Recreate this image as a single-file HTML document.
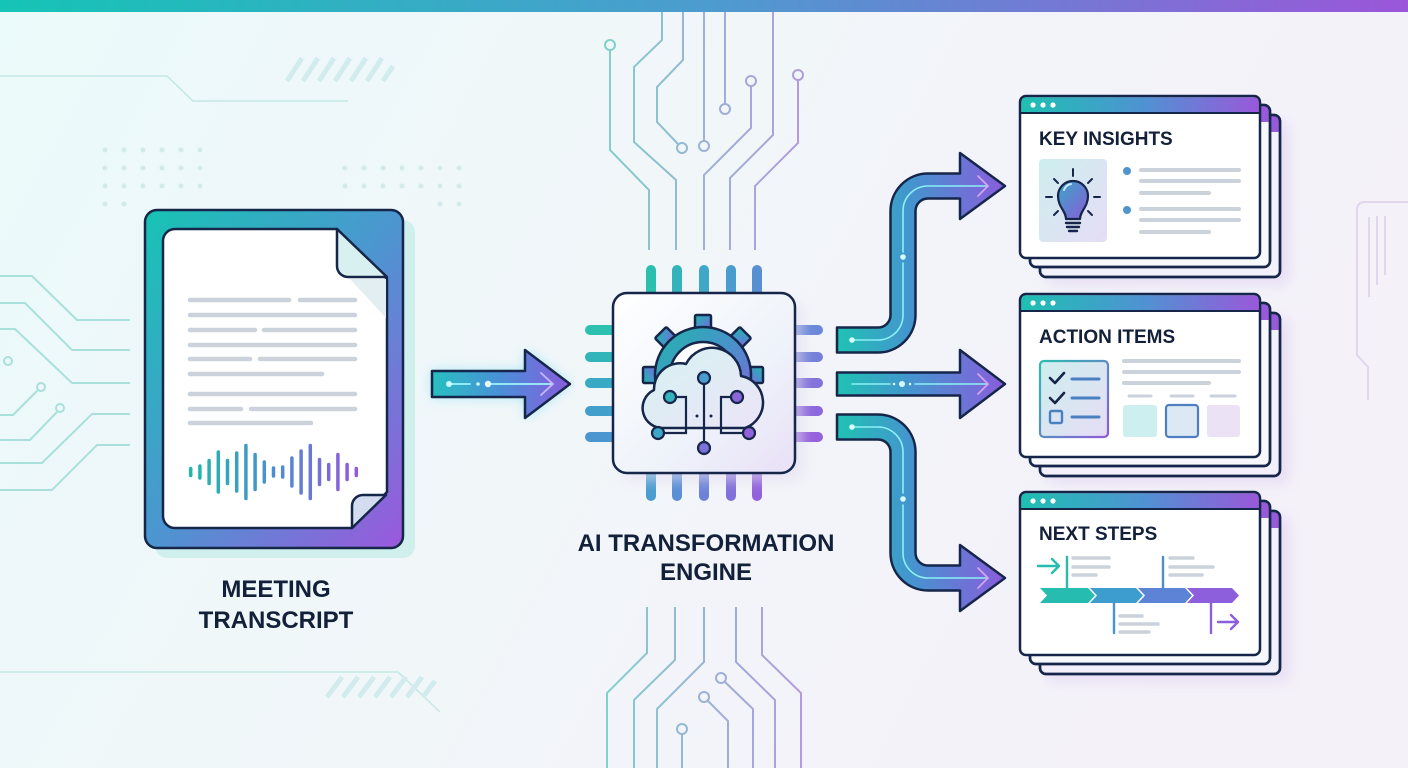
<!DOCTYPE html>
<html><head><meta charset="utf-8"><style>
html,body{margin:0;padding:0;}
body{width:1408px;height:768px;overflow:hidden;background:#f0f7f8;}
svg{display:block;}
text{font-family:"Liberation Sans",Arial,sans-serif;font-weight:bold;fill:#13203a;}
</style></head><body>
<svg width="1408" height="768" viewBox="0 0 1408 768" xmlns="http://www.w3.org/2000/svg">
<defs>
<linearGradient id="bg" x1="0" y1="0" x2="1" y2="0.3">
<stop offset="0" stop-color="#ebfafa"/><stop offset="0.5" stop-color="#f1f6f9"/><stop offset="1" stop-color="#f4f1f9"/></linearGradient>
<linearGradient id="topbar" x1="0" y1="0" x2="1" y2="0">
<stop offset="0" stop-color="#15c4b6"/><stop offset="0.5" stop-color="#4c9ccf"/><stop offset="1" stop-color="#9b56d9"/></linearGradient>
<linearGradient id="tg" x1="0" y1="0" x2="1" y2="1">
<stop offset="0" stop-color="#17c4b4"/><stop offset="0.5" stop-color="#4c96d0"/><stop offset="1" stop-color="#9b58dd"/></linearGradient>
<linearGradient id="hbar" x1="0" y1="0" x2="1" y2="0">
<stop offset="0" stop-color="#1ec0b2"/><stop offset="0.5" stop-color="#4d94d2"/><stop offset="1" stop-color="#9a58da"/></linearGradient>
<linearGradient id="wave" gradientUnits="userSpaceOnUse" x1="188" y1="0" x2="360" y2="0">
<stop offset="0" stop-color="#1fbaa9"/><stop offset="0.5" stop-color="#4c8ed0"/><stop offset="1" stop-color="#9858da"/></linearGradient>
<linearGradient id="arr" gradientUnits="userSpaceOnUse" x1="837" y1="0" x2="1005" y2="0">
<stop offset="0" stop-color="#1fc2b3"/><stop offset="0.45" stop-color="#4693cf"/><stop offset="1" stop-color="#8a5cdc"/></linearGradient>
<linearGradient id="arrIn" gradientUnits="userSpaceOnUse" x1="432" y1="0" x2="570" y2="0">
<stop offset="0" stop-color="#27c0c0"/><stop offset="0.5" stop-color="#4a8fd8"/><stop offset="1" stop-color="#8a5adc"/></linearGradient>
<linearGradient id="chip" x1="0" y1="0" x2="1" y2="1">
<stop offset="0" stop-color="#ffffff"/><stop offset="0.6" stop-color="#eef3fa"/><stop offset="1" stop-color="#e9e0f7"/></linearGradient>
<linearGradient id="gear" x1="0" y1="0" x2="1" y2="1">
<stop offset="0" stop-color="#20b7aa"/><stop offset="0.5" stop-color="#4a90cc"/><stop offset="1" stop-color="#8c5cd8"/></linearGradient>
<linearGradient id="cloud" x1="0" y1="0" x2="1" y2="1">
<stop offset="0" stop-color="#d5f3f1"/><stop offset="1" stop-color="#ece4f8"/></linearGradient>
<linearGradient id="soft" x1="0" y1="0" x2="1" y2="1">
<stop offset="0" stop-color="#cdeeee"/><stop offset="1" stop-color="#e6ddf5"/></linearGradient>
<linearGradient id="bulb" x1="0" y1="0" x2="1" y2="1">
<stop offset="0" stop-color="#3aa6c8"/><stop offset="1" stop-color="#8a5cd8"/></linearGradient>
<linearGradient id="chk" x1="0" y1="0" x2="1" y2="1">
<stop offset="0" stop-color="#2bbcb0"/><stop offset="1" stop-color="#8c5cd8"/></linearGradient>
<linearGradient id="circT" x1="0" y1="0" x2="1" y2="0">
<stop offset="0" stop-color="#7fd3c8"/><stop offset="0.5" stop-color="#9ab3d4"/><stop offset="1" stop-color="#b49ae0"/></linearGradient>
<linearGradient id="circB" gradientUnits="userSpaceOnUse" x1="600" y1="0" x2="805" y2="0">
<stop offset="0" stop-color="#7fd3c8"/><stop offset="0.5" stop-color="#9ab3d4"/><stop offset="1" stop-color="#b49ae0"/></linearGradient>
<linearGradient id="circTop" gradientUnits="userSpaceOnUse" x1="600" y1="0" x2="805" y2="0">
<stop offset="0" stop-color="#7fd3c8"/><stop offset="0.5" stop-color="#9ab3d4"/><stop offset="1" stop-color="#b49ae0"/></linearGradient>
<filter id="blur6" x="-50%" y="-50%" width="200%" height="200%"><feGaussianBlur stdDeviation="6"/></filter>
<filter id="blur3" x="-50%" y="-50%" width="200%" height="200%"><feGaussianBlur stdDeviation="3"/></filter>
<filter id="blur10" x="-50%" y="-50%" width="200%" height="200%"><feGaussianBlur stdDeviation="10"/></filter>
</defs>

<!-- background -->
<rect width="1408" height="768" fill="url(#bg)"/>
<rect width="1408" height="12" fill="url(#topbar)"/>

<!-- background decor left -->
<g fill="none" stroke="#c2e8e6" stroke-width="1.5">
<path d="M0 76 H167 L193 101 H348"/>
<path d="M0 672 H398 L440 712"/>
</g>
<g stroke="#d2ecee" stroke-width="5">
<path d="M287 81 L302 58 M303 81 L318 58 M319 81 L334 58 M335 81 L350 58 M351 81 L366 58 M367 81 L382 58 M383 81 L393 66"/>
<path d="M327 697 L342 677 M343 697 L358 677 M359 697 L374 677 M375 697 L390 677 M391 697 L406 677 M407 697 L422 677 M423 697 L435 681"/>
</g>
<g fill="#d4e9eb">
<circle cx="105" cy="150" r="2.5"/><circle cx="124" cy="150" r="2.5"/><circle cx="143" cy="150" r="2.5"/><circle cx="162" cy="150" r="2.5"/><circle cx="181" cy="150" r="2.5"/><circle cx="200" cy="150" r="2.5"/>
<circle cx="105" cy="168" r="2.5"/><circle cx="124" cy="168" r="2.5"/><circle cx="143" cy="168" r="2.5"/><circle cx="162" cy="168" r="2.5"/><circle cx="181" cy="168" r="2.5"/><circle cx="200" cy="168" r="2.5"/>
<circle cx="105" cy="186" r="2.5"/><circle cx="124" cy="186" r="2.5"/><circle cx="143" cy="186" r="2.5"/><circle cx="162" cy="186" r="2.5"/><circle cx="181" cy="186" r="2.5"/><circle cx="200" cy="186" r="2.5"/>
<circle cx="105" cy="204" r="2.5"/><circle cx="124" cy="204" r="2.5"/>
<circle cx="345" cy="168" r="2.5"/><circle cx="364" cy="168" r="2.5"/><circle cx="383" cy="168" r="2.5"/><circle cx="402" cy="168" r="2.5"/><circle cx="421" cy="168" r="2.5"/><circle cx="440" cy="168" r="2.5"/><circle cx="459" cy="168" r="2.5"/>
<circle cx="345" cy="186" r="2.5"/><circle cx="364" cy="186" r="2.5"/><circle cx="383" cy="186" r="2.5"/><circle cx="402" cy="186" r="2.5"/><circle cx="421" cy="186" r="2.5"/><circle cx="440" cy="186" r="2.5"/><circle cx="459" cy="186" r="2.5"/>
<circle cx="440" cy="204" r="2.5"/><circle cx="459" cy="204" r="2.5"/>
</g>
<g fill="none" stroke="#a9e0dc" stroke-width="2">
<path d="M0 276 H32 L77 320 H130"/>
<path d="M0 303 H25 L72 350 H130"/>
<path d="M0 329 H15 L72 383 H130"/>
<circle cx="8" cy="361" r="4"/>
<path d="M0 415 H13 L38 390"/><circle cx="41" cy="387" r="4"/>
<path d="M0 440 H30 L57 412"/><circle cx="60" cy="408" r="4"/>
<path d="M0 463 H42 L92 414 H130"/>
<path d="M0 490 H52 L97 445 H130"/>
</g>
<!-- right decor -->
<g fill="none" stroke="#e0d6ee" stroke-width="2">
<path d="M1408 202 H1365 Q1357 202 1357 210 V355 L1368 367 V400"/>
<path d="M1369 217 V297 M1377 216 V285 M1385 216 V275"/>
</g>

<!-- top center circuits -->
<g fill="none" stroke="url(#circTop)" stroke-width="2">
<circle cx="610" cy="45" r="5"/><path d="M610 50 V150 L649 190 V250"/>
<path d="M662 12 V40 L634 67 V142 L676 180 V250"/>
<path d="M683 12 V60 L657 87 V122 L678 144"/><circle cx="682" cy="148" r="5"/>
<path d="M704 12 V141"/><circle cx="704" cy="146" r="5"/>
<path d="M725 12 V104"/><circle cx="725" cy="109" r="5"/>
<circle cx="751" cy="81" r="5"/><path d="M751 86 V128 L704 175 V250"/>
<path d="M773 12 V135 L730 178 V250"/>
<circle cx="798" cy="75" r="5"/><path d="M798 80 V143 L755 186 V250"/>
</g>
<!-- bottom center circuits -->
<g fill="none" stroke="url(#circB)" stroke-width="2">
<path d="M647 607 V653 L607 693 V768"/>
<path d="M675 607 V660 L634 700 V768"/>
<path d="M704 607 V662 L657 709 V768"/>
<circle cx="682" cy="729" r="5"/><path d="M682 734 V768"/>
<circle cx="704" cy="697" r="5"/><path d="M708 701 L728 721 V768"/>
<circle cx="721" cy="678" r="5"/><path d="M725 682 L753 709 V768"/>
<path d="M736 607 V662 L775 700 V768"/>
<path d="M762 607 V655 L801 693 V768"/>
</g>

<!-- ===== Transcript ===== -->
<rect x="155" y="220" width="260" height="338" rx="12" fill="#c8eeea" opacity="0.8"/>
<rect x="145" y="210" width="258" height="338" rx="12" fill="url(#tg)" stroke="#152648" stroke-width="2.5"/>
<path d="M175 229 H337 L387 279 V492 L352 528 H175 A12 12 0 0 1 163 516 V241 A12 12 0 0 1 175 229 Z" fill="#ffffff" stroke="#152648" stroke-width="2.5"/>
<polygon points="350,279 386,279 386,318" fill="#e3eef2"/>
<path d="M337 229 V266 A11 11 0 0 0 348 277 H387 Z" fill="#d9f0f1" stroke="#152648" stroke-width="2.5" stroke-linejoin="round"/>
<path d="M352 528 V506 A11 11 0 0 1 363 495 H386 Z" fill="#d3dcf0" stroke="#152648" stroke-width="2.5" stroke-linejoin="round"/>
<line x1="189" y1="269" x2="264" y2="269" stroke="url(#hbar)" stroke-width="5" stroke-linecap="round"/>
<g stroke="#cbd2dc" stroke-width="4.5" stroke-linecap="round">
<path d="M190 300 H289 M300 300 H355"/>
<path d="M190 315 H355"/>
<path d="M190 330 H255 M264 330 H355"/>
<path d="M190 345 H355"/>
<path d="M190 359 H250 M260 359 H355"/>
<path d="M190 374 H322"/>
<path d="M190 394 H355"/>
<path d="M190 409 H241 M251 409 H355"/>
<path d="M190 423 H311"/>
</g>
<g stroke="url(#wave)" stroke-width="3.5" stroke-linecap="round">
<path d="M190.7 468.5 V475.5 M199.9 466 V478 M209.1 460.5 V483.5 M218.3 452 V492 M227.5 460.5 V483.5 M236.7 453 V491 M245.9 445.5 V498.5 M255.1 454.5 V489.5 M264.3 462 V482 M273.5 468 V476 M282.7 467 V477 M291.9 458 V486 M301.1 451 V493 M310.3 445.5 V498.5 M319.5 459.5 V484.5 M328.7 464.5 V479.5 M337.9 454.5 V489.5 M347.1 464.5 V479.5 M356.3 468.5 V475.5"/>
</g>
<text x="276" y="597" font-size="24" text-anchor="middle">MEETING</text>
<text x="276" y="628" font-size="24" text-anchor="middle">TRANSCRIPT</text>

<!-- input arrow -->
<path d="M432 371 H525 V350 L570 384 L525 418 V397 H432 Z" fill="#5fd8f0" opacity="0.55" filter="url(#blur6)"/>
<path d="M432 371 H525 V350 L570 384 L525 418 V397 H432 Z" fill="url(#arrIn)" stroke="#15264a" stroke-width="2.5" stroke-linejoin="round"/>
<g stroke="#9ff2ff" stroke-width="1.8" fill="none" stroke-linecap="round">
<path d="M449 384 H470 M491 384 H553"/>
<path d="M541 373 L553 384 L541 395" stroke="#c9b6ff"/>
</g>
<circle cx="449" cy="384" r="3" fill="#c9fbff"/><circle cx="478" cy="384" r="1.8" fill="#c9fbff"/><circle cx="488" cy="384" r="3.2" fill="#e6ffff"/>

<!-- ===== Chip ===== -->
<g stroke-width="10" stroke-linecap="round">
<line x1="651" y1="270" x2="651" y2="292" stroke="#2bbfb0"/>
<line x1="677" y1="270" x2="677" y2="292" stroke="#34b3bd"/>
<line x1="704" y1="270" x2="704" y2="292" stroke="#3fa7c7"/>
<line x1="731" y1="270" x2="731" y2="292" stroke="#4a9bce"/>
<line x1="757" y1="270" x2="757" y2="292" stroke="#5690d3"/>
<line x1="651" y1="474" x2="651" y2="496" stroke="#4a9ccf"/>
<line x1="677" y1="474" x2="677" y2="496" stroke="#5a8ed5"/>
<line x1="704" y1="474" x2="704" y2="496" stroke="#6c82d8"/>
<line x1="731" y1="474" x2="731" y2="496" stroke="#8170da"/>
<line x1="757" y1="474" x2="757" y2="496" stroke="#9262dc"/>
<line x1="590" y1="330" x2="612" y2="330" stroke="#2bc0b0"/>
<line x1="590" y1="357" x2="612" y2="357" stroke="#31b5ba"/>
<line x1="590" y1="383" x2="612" y2="383" stroke="#39a9c4"/>
<line x1="590" y1="411" x2="612" y2="411" stroke="#429fcb"/>
<line x1="590" y1="437" x2="612" y2="437" stroke="#4b96d0"/>
<line x1="796" y1="330" x2="818" y2="330" stroke="#6a88d8"/>
<line x1="796" y1="357" x2="818" y2="357" stroke="#7680d8"/>
<line x1="796" y1="383" x2="818" y2="383" stroke="#8272da"/>
<line x1="796" y1="411" x2="818" y2="411" stroke="#8c68dc"/>
<line x1="796" y1="437" x2="818" y2="437" stroke="#9661dc"/>
</g>
<rect x="621" y="301" width="182" height="180" rx="14" fill="#e3dcef" opacity="0.6" filter="url(#blur6)"/>
<rect x="613" y="293" width="182" height="180" rx="14" fill="url(#chip)" stroke="#15264a" stroke-width="2.5"/>
<!-- gear -->
<g transform="translate(703 375)" stroke="#15264a" stroke-width="2.5" fill="url(#gear)" stroke-linejoin="round">
<rect x="-8" y="-60" width="16" height="16" rx="1.5"/>
<rect x="-8" y="-60" width="16" height="16" rx="1.5" transform="rotate(45)"/>
<rect x="-8" y="-60" width="16" height="16" rx="1.5" transform="rotate(90)"/>
<rect x="-8" y="-60" width="16" height="16" rx="1.5" transform="rotate(-45)"/>
<rect x="-8" y="-60" width="16" height="16" rx="1.5" transform="rotate(-90)"/>
<circle r="48"/>
<circle r="33" fill="#ffffff"/>
</g>
<!-- cloud -->
<path d="M664 428 A20 20 0 0 1 654 390 A26 26 0 0 1 686 364 A29 29 0 0 1 741 376 A27 27 0 0 1 745 428 Z" fill="url(#cloud)" stroke="#15264a" stroke-width="2.5" stroke-linejoin="round"/>
<g fill="none" stroke="#15264a" stroke-width="2.2">
<path d="M704 384 V442"/>
<path d="M676 397 H686 V433 H664"/>
<path d="M731 397 H721 V433 H743"/>
</g>
<circle cx="697" cy="416" r="1.5" fill="#15264a"/><circle cx="711" cy="416" r="1.5" fill="#15264a"/>
<g stroke="#15264a" stroke-width="2.2">
<circle cx="704" cy="378" r="6" fill="#4a9ccf"/>
<circle cx="670" cy="397" r="6" fill="#35b2bb"/>
<circle cx="737" cy="397" r="6" fill="#8a66d8"/>
<circle cx="658" cy="433" r="6" fill="#3fa6c7"/>
<circle cx="749" cy="433" r="6" fill="#9262dc"/>
<circle cx="704" cy="448" r="6" fill="#7a72d8"/>
</g>
<text x="706" y="551" font-size="24" text-anchor="middle">AI TRANSFORMATION</text>
<text x="706" y="580" font-size="24" text-anchor="middle">ENGINE</text>

<!-- ===== Branch arrows ===== -->
<g fill="url(#arr)" stroke="#15264a" stroke-width="2.5" stroke-linejoin="round">
<path d="M837 327.5 H878 A12.5 12.5 0 0 0 890.5 315 V211 A37.5 37.5 0 0 1 928 173.5 H960 V153 L1005 186 L960 219 V198.5 H928 A12.5 12.5 0 0 0 915.5 211 V315 A37.5 37.5 0 0 1 878 352.5 H837 Z"/>
<path d="M837 372.5 H960 V350 L1005 384 L960 418 V395.5 H837 Z"/>
<path d="M837 414.5 H878 A37.5 37.5 0 0 1 915.5 452 V553 A12.5 12.5 0 0 0 928 565.5 H960 V545 L1005 578 L960 611 V590.5 H928 A37.5 37.5 0 0 1 890.5 553 V452 A12.5 12.5 0 0 0 878 439.5 H837 Z"/>
</g>
<g fill="none" stroke="#8cf0f6" stroke-width="1.6" stroke-linecap="round">
<path d="M852 340 H878 A25 25 0 0 0 903 315 V263 M903 252 V211 A25 25 0 0 1 928 186 H988"/>
<path d="M852 384 H890 M915 384 H988"/>
<path d="M852 427 H878 A25 25 0 0 1 903 452 V493 M903 505 V553 A25 25 0 0 0 928 578 H988"/>
</g>
<g fill="none" stroke="#d4a8f2" stroke-width="1.6" stroke-linecap="round">
<path d="M978 176 L988 186 L978 196"/>
<path d="M978 374 L988 384 L978 394"/>
<path d="M978 568 L988 578 L978 588"/>
</g>
<g fill="#d6fbff">
<circle cx="852" cy="340" r="2.8"/><circle cx="903" cy="257" r="2.8"/>
<circle cx="902" cy="384" r="3"/><circle cx="894" cy="384" r="1.3"/><circle cx="910" cy="384" r="1.3"/>
<circle cx="852" cy="427" r="2.8"/><circle cx="903" cy="499" r="2.8"/>
</g>

<!-- ===== Output cards ===== -->
<!-- Card shadows -->
<rect x="1046" y="121" width="244" height="164" rx="8" fill="#e2d8f2" opacity="0.7" filter="url(#blur6)"/>
<rect x="1046" y="318" width="244" height="166" rx="8" fill="#e2d8f2" opacity="0.7" filter="url(#blur6)"/>
<rect x="1046" y="516" width="244" height="166" rx="8" fill="#e2d8f2" opacity="0.7" filter="url(#blur6)"/>

<!-- Card 1 -->
<g transform="translate(1020 96)">
<g transform="translate(20 19)"><rect width="240" height="162" rx="6" fill="#f2f0fb" stroke="#15264a" stroke-width="2.5"/><path d="M1.25 17 V6 A5 5 0 0 1 6 1.25 H234 A5 5 0 0 1 238.75 6 V17 Z" fill="url(#hbar)"/><rect width="240" height="162" rx="6" fill="none" stroke="#15264a" stroke-width="2.5"/></g>
<g transform="translate(10 9)"><rect width="240" height="162" rx="6" fill="#f6f8fc" stroke="#15264a" stroke-width="2.5"/><path d="M1.25 17 V6 A5 5 0 0 1 6 1.25 H234 A5 5 0 0 1 238.75 6 V17 Z" fill="url(#hbar)"/><rect width="240" height="162" rx="6" fill="none" stroke="#15264a" stroke-width="2.5"/></g>
<rect width="240" height="162" rx="6" fill="#ffffff"/>
<path d="M1.25 17 V6 A5 5 0 0 1 6 1.25 H234 A5 5 0 0 1 238.75 6 V17 Z" fill="url(#hbar)"/>
<line x1="0" y1="17" x2="240" y2="17" stroke="#15264a" stroke-width="2"/>
<rect width="240" height="162" rx="6" fill="none" stroke="#15264a" stroke-width="2.5"/>
<circle cx="13" cy="9" r="2.6" fill="#fff"/><circle cx="23" cy="9" r="2.6" fill="#fff"/><circle cx="33" cy="9" r="2.6" fill="#fff"/>
</g>
<text x="1039" y="145" font-size="19">KEY INSIGHTS</text>
<rect x="1039" y="159" width="68" height="83" rx="4" fill="url(#soft)"/>
<g stroke="#15264a" stroke-width="2" stroke-linecap="round">
<path d="M1073 169 V176 M1046 197 H1052 M1094 197 H1100 M1054 179 L1058 183 M1092 179 L1088 183 M1054 215 L1058 211 M1092 215 L1088 211"/>
</g>
<path d="M1066 219 C1066 211 1058 207 1058 196 A15 15 0 0 1 1088 196 C1088 207 1080 211 1080 219 Z" fill="url(#bulb)" stroke="#15264a" stroke-width="2.2" stroke-linejoin="round"/>
<path d="M1064 190 A9 9 0 0 1 1071 184" fill="none" stroke="#cfe9ff" stroke-width="2" stroke-linecap="round"/>
<g stroke="#15264a" stroke-width="2.4" stroke-linecap="round"><path d="M1066 223 H1080 M1067 227 H1079 M1069 231 H1077"/></g>
<circle cx="1127" cy="171" r="4" fill="#4d95cc"/><circle cx="1127" cy="210" r="4" fill="#4d95cc"/>
<g stroke="#cbd2dc" stroke-width="4" stroke-linecap="round">
<path d="M1141 170 H1239 M1141 181 H1239 M1141 193 H1209 M1141 209 H1239 M1141 220 H1239 M1141 232 H1209"/>
</g>

<!-- Card 2 -->
<g transform="translate(1020 294)">
<g transform="translate(20 19)"><rect width="240" height="163" rx="6" fill="#f2f0fb" stroke="#15264a" stroke-width="2.5"/><path d="M1.25 17 V6 A5 5 0 0 1 6 1.25 H234 A5 5 0 0 1 238.75 6 V17 Z" fill="url(#hbar)"/><rect width="240" height="163" rx="6" fill="none" stroke="#15264a" stroke-width="2.5"/></g>
<g transform="translate(10 9)"><rect width="240" height="163" rx="6" fill="#f6f8fc" stroke="#15264a" stroke-width="2.5"/><path d="M1.25 17 V6 A5 5 0 0 1 6 1.25 H234 A5 5 0 0 1 238.75 6 V17 Z" fill="url(#hbar)"/><rect width="240" height="163" rx="6" fill="none" stroke="#15264a" stroke-width="2.5"/></g>
<rect width="240" height="163" rx="6" fill="#ffffff"/>
<path d="M1.25 17 V6 A5 5 0 0 1 6 1.25 H234 A5 5 0 0 1 238.75 6 V17 Z" fill="url(#hbar)"/>
<line x1="0" y1="17" x2="240" y2="17" stroke="#15264a" stroke-width="2"/>
<rect width="240" height="163" rx="6" fill="none" stroke="#15264a" stroke-width="2.5"/>
<circle cx="13" cy="9" r="2.6" fill="#fff"/><circle cx="23" cy="9" r="2.6" fill="#fff"/><circle cx="33" cy="9" r="2.6" fill="#fff"/>
</g>
<text x="1039" y="343" font-size="19">ACTION ITEMS</text>
<rect x="1040" y="361" width="68" height="76" rx="4" fill="url(#soft)" stroke="url(#chk)" stroke-width="2.2"/>
<g fill="none" stroke="#15264a" stroke-width="2.6" stroke-linecap="round" stroke-linejoin="round">
<path d="M1050 378 L1055 383 L1064 373"/>
<path d="M1050 398 L1055 403 L1064 393"/>
</g>
<rect x="1050" y="411" width="12" height="12" rx="1.5" fill="none" stroke="#4a7fc0" stroke-width="2.4"/>
<g stroke="#4a80c2" stroke-width="3" stroke-linecap="round"><path d="M1072 379 H1099 M1072 398 H1099 M1072 417 H1099"/></g>
<g stroke="#cbd2dc" stroke-width="4" stroke-linecap="round">
<path d="M1124 361 H1239 M1124 372 H1239 M1124 383 H1209"/>
<path d="M1129 396 H1151 M1171 396 H1193 M1211 396 H1235" stroke-width="3"/>
</g>
<rect x="1123" y="405" width="34" height="32" rx="3" fill="#cdeff0"/>
<rect x="1166" y="405" width="32" height="32" rx="3" fill="#dde8f5" stroke="#4f7fc2" stroke-width="2.2"/>
<rect x="1207" y="405" width="33" height="32" rx="3" fill="#ebe2f6"/>

<!-- Card 3 -->
<g transform="translate(1020 492)">
<g transform="translate(20 19)"><rect width="240" height="163" rx="6" fill="#f2f0fb" stroke="#15264a" stroke-width="2.5"/><path d="M1.25 17 V6 A5 5 0 0 1 6 1.25 H234 A5 5 0 0 1 238.75 6 V17 Z" fill="url(#hbar)"/><rect width="240" height="163" rx="6" fill="none" stroke="#15264a" stroke-width="2.5"/></g>
<g transform="translate(10 9)"><rect width="240" height="163" rx="6" fill="#f6f8fc" stroke="#15264a" stroke-width="2.5"/><path d="M1.25 17 V6 A5 5 0 0 1 6 1.25 H234 A5 5 0 0 1 238.75 6 V17 Z" fill="url(#hbar)"/><rect width="240" height="163" rx="6" fill="none" stroke="#15264a" stroke-width="2.5"/></g>
<rect width="240" height="163" rx="6" fill="#ffffff"/>
<path d="M1.25 17 V6 A5 5 0 0 1 6 1.25 H234 A5 5 0 0 1 238.75 6 V17 Z" fill="url(#hbar)"/>
<line x1="0" y1="17" x2="240" y2="17" stroke="#15264a" stroke-width="2"/>
<rect width="240" height="163" rx="6" fill="none" stroke="#15264a" stroke-width="2.5"/>
<circle cx="13" cy="9" r="2.6" fill="#fff"/><circle cx="23" cy="9" r="2.6" fill="#fff"/><circle cx="33" cy="9" r="2.6" fill="#fff"/>
</g>
<text x="1039" y="540" font-size="19">NEXT STEPS</text>
<!-- timeline -->
<polygon points="1040,588 1088,588 1095,595.5 1088,603 1040,603 1047,595.5" fill="#26bdb0"/>
<polygon points="1090,588 1136,588 1143,595.5 1136,603 1090,603 1097,595.5" fill="#3e9dcf"/>
<polygon points="1138,588 1185,588 1192,595.5 1185,603 1138,603 1145,595.5" fill="#5c83d6"/>
<polygon points="1187,588 1232,588 1239,595.5 1232,603 1187,603 1194,595.5" fill="#8e5fdc"/>
<g fill="none" stroke-width="2.4" stroke-linecap="round" stroke-linejoin="round">
<path d="M1038 566 H1059 M1052 559 L1059 566 L1052 573" stroke="#26bdb0"/>
<path d="M1218 622 H1238 M1231 615 L1238 622 L1231 629" stroke="#8e5fdc"/>
<path d="M1067 557 V588" stroke="#2bb8ad"/>
<path d="M1163 557 V588" stroke="#4f8ccf"/>
<path d="M1114 603 V633" stroke="#4a93cf"/>
<path d="M1211 603 V633" stroke="#8e5fdc"/>
</g>
<g stroke="#cbd2dc" stroke-width="3.5" stroke-linecap="round">
<path d="M1073 558 H1109 M1073 567 H1109 M1073 575 H1096"/>
<path d="M1170 558 H1193 M1170 567 H1213 M1170 575 H1202"/>
<path d="M1120 616 H1142 M1120 624 H1158 M1120 632 H1149"/>
</g>
</svg>
</body></html>
